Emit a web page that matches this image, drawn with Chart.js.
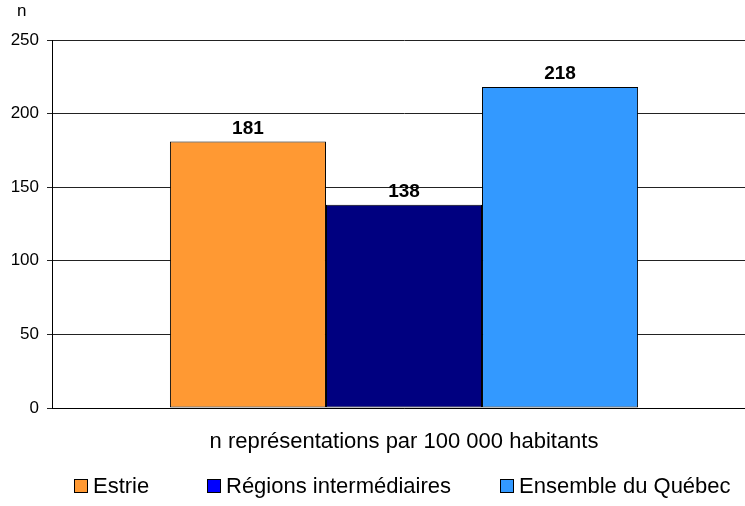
<!DOCTYPE html>
<html><head><meta charset="utf-8">
<script src="https://cdn.jsdelivr.net/npm/chart.js@4/dist/chart.umd.min.js"></script>
<style>
html,body{margin:0;padding:0;background:#fff;overflow:hidden;width:745px;height:506px;}
#wrap{position:relative;width:745px;height:506px;overflow:hidden;font-family:"Liberation Sans",Arial,sans-serif;}
#c{position:absolute;left:0;top:0;}
#ytitle{position:absolute;left:17px;top:1px;font-size:17px;line-height:20px;color:#000;}
.leg{position:absolute;top:473px;height:26px;line-height:26px;font-size:22px;color:#000;white-space:nowrap;display:flex;align-items:center;}
.sw{display:inline-block;width:12px;height:12px;border:1px solid #000;margin-right:5px;}
</style></head>
<body><div id="wrap">
<canvas id="c" width="756" height="506" style="width:756px;height:506px"></canvas>
<div id="ytitle">n</div>
<div id="legend"></div>
</div>
<script>
const categories = ["n représentations par 100 000 habitants"];
const seriesNames = ["Estrie", "Régions intermédiaires", "Ensemble du Québec"];
const seriesValues = [[181], [138], [218]];
const barColors = ["#FF9933", "#000080", "#3399FF"];
const legendColors = ["#FF9933", "#0000FF", "#3399FF"];
const yTicks = [0, 50, 100, 150, 200, 250];

const legendX = [74, 207, 500];
const legEl = document.getElementById('legend');
seriesNames.forEach((n, i) => {
  const d = document.createElement('div');
  d.className = 'leg';
  d.style.left = legendX[i] + 'px';
  d.innerHTML = '<span class="sw" style="background:' + legendColors[i] + '"></span>' + n;
  legEl.appendChild(d);
});

const labelPlugin = {
  id: 'vals',
  afterDatasetsDraw(chart) {
    const ctx = chart.ctx;
    ctx.save();
    ctx.font = 'bold 19px "Liberation Sans", Arial, sans-serif';
    ctx.fillStyle = '#000';
    ctx.textAlign = 'center';
    ctx.textBaseline = 'alphabetic';
    chart.data.datasets.forEach((ds, i) => {
      chart.getDatasetMeta(i).data.forEach((el, j) => {
        ctx.fillText(String(ds.data[j]), el.x, el.y - 8);
      });
    });
    ctx.restore();
  }
};

new Chart(document.getElementById('c'), {
  type: 'bar',
  data: {
    labels: categories,
    datasets: seriesNames.map((n, i) => ({
      label: n,
      data: seriesValues[i],
      backgroundColor: barColors[i],
      borderColor: '#000',
      borderWidth: 1,
      borderSkipped: false,
      categoryPercentage: 0.665,
      barPercentage: 1.0
    }))
  },
  options: {
    responsive: false,
    animation: false,
    devicePixelRatio: 1,
    layout: { padding: { top: 40, right: 0, bottom: 0, left: 0 } },
    plugins: { legend: { display: false }, tooltip: { enabled: false } },
    scales: {
      x: {
        grid: { display: false, drawTicks: false },
        border: { display: true, color: '#000', width: 1 },
        ticks: { color: '#000', font: { size: 22, family: '"Liberation Sans", Arial, sans-serif' }, padding: 21 },
        afterFit(s) { s.height = 98; }
      },
      y: {
        min: 0, max: 250,
        afterBuildTicks(s) { s.ticks = yTicks.map(v => ({ value: v })); },
        grid: { color: '#222', lineWidth: 1, tickLength: 5, drawTicks: true },
        border: { display: true, color: '#000', width: 1 },
        ticks: { color: '#000', font: { size: 17, family: '"Liberation Sans", Arial, sans-serif' }, padding: 8 },
        afterFit(s) { s.width = 52; }
      }
    }
  },
  plugins: [labelPlugin]
});
</script>
</body></html>
